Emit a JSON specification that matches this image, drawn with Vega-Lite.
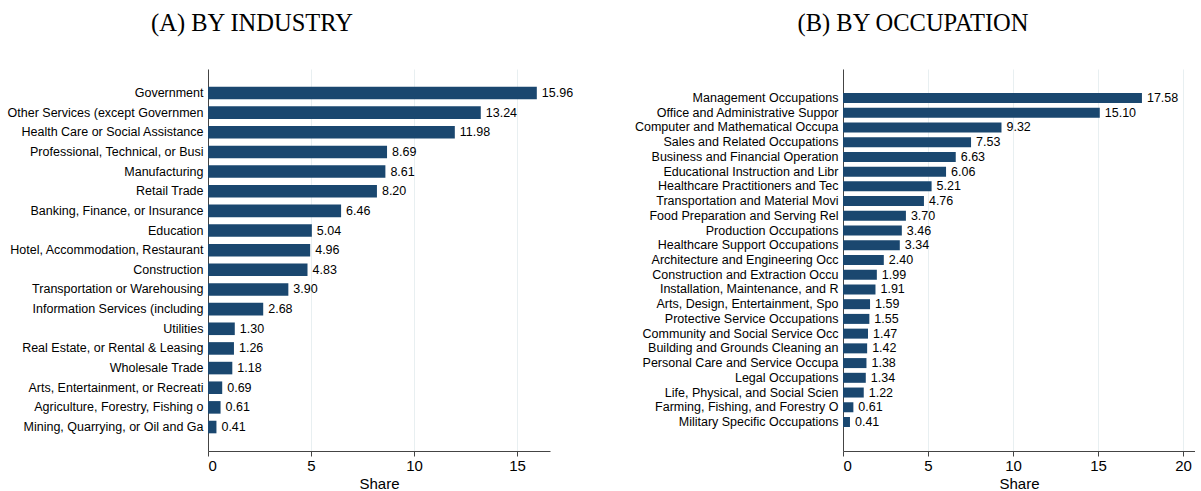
{
  "$schema": "https://vega.github.io/schema/vega-lite/v6.json",
  "padding": {"left": 7, "top": 11, "right": 0, "bottom": 0},
  "background": "white",
  "datasets": {
    "industry": [
      {"label": "Government", "share": 15.96},
      {"label": "Other Services (except Governmen", "share": 13.24},
      {"label": "Health Care or Social Assistance", "share": 11.98},
      {"label": "Professional, Technical, or Busi", "share": 8.69},
      {"label": "Manufacturing", "share": 8.61},
      {"label": "Retail Trade", "share": 8.20},
      {"label": "Banking, Finance, or Insurance", "share": 6.46},
      {"label": "Education", "share": 5.04},
      {"label": "Hotel, Accommodation, Restaurant", "share": 4.96},
      {"label": "Construction", "share": 4.83},
      {"label": "Transportation or Warehousing", "share": 3.90},
      {"label": "Information Services (including", "share": 2.68},
      {"label": "Utilities", "share": 1.30},
      {"label": "Real Estate, or Rental & Leasing", "share": 1.26},
      {"label": "Wholesale Trade", "share": 1.18},
      {"label": "Arts, Entertainment, or Recreati", "share": 0.69},
      {"label": "Agriculture, Forestry, Fishing o", "share": 0.61},
      {"label": "Mining, Quarrying, or Oil and Ga", "share": 0.41}
    ],
    "occupation": [
      {"label": "Management Occupations", "share": 17.58},
      {"label": "Office and Administrative Suppor", "share": 15.10},
      {"label": "Computer and Mathematical Occupa", "share": 9.32},
      {"label": "Sales and Related Occupations", "share": 7.53},
      {"label": "Business and Financial Operation", "share": 6.63},
      {"label": "Educational Instruction and Libr", "share": 6.06},
      {"label": "Healthcare Practitioners and Tec", "share": 5.21},
      {"label": "Transportation and Material Movi", "share": 4.76},
      {"label": "Food Preparation and Serving Rel", "share": 3.70},
      {"label": "Production Occupations", "share": 3.46},
      {"label": "Healthcare Support Occupations", "share": 3.34},
      {"label": "Architecture and Engineering Occ", "share": 2.40},
      {"label": "Construction and Extraction Occu", "share": 1.99},
      {"label": "Installation, Maintenance, and R", "share": 1.91},
      {"label": "Arts, Design, Entertainment, Spo", "share": 1.59},
      {"label": "Protective Service Occupations", "share": 1.55},
      {"label": "Community and Social Service Occ", "share": 1.47},
      {"label": "Building and Grounds Cleaning an", "share": 1.42},
      {"label": "Personal Care and Service Occupa", "share": 1.38},
      {"label": "Legal Occupations", "share": 1.34},
      {"label": "Life, Physical, and Social Scien", "share": 1.22},
      {"label": "Farming, Fishing, and Forestry O", "share": 0.61},
      {"label": "Military Specific Occupations", "share": 0.41}
    ]
  },
  "spacing": 60,
  "hconcat": [
    {
      "title": {"text": "(A) BY INDUSTRY", "frame": "group", "anchor": "middle", "dx": -127, "offset": 32.5},
      "width": 342,
      "height": 382,
      "data": {"name": "industry"},
      "encoding": {
        "y": {
          "field": "label", "type": "nominal", "sort": "-x", "title": null,
          "scale": {"paddingInner": 0.36, "paddingOuter": 0.9},
          "axis": {"ticks": false, "grid": false, "labelPadding": 5, "labelLimit": 300}
        },
        "x": {
          "field": "share", "type": "quantitative", "title": "Share",
          "scale": {"domain": [0, 16.6], "nice": false, "zero": true},
          "axis": {"values": [0, 5, 10, 15]}
        }
      },
      "layer": [
        {"mark": {"type": "bar", "color": "#1a476f"}},
        {
          "mark": {"type": "text", "align": "left", "dx": 5, "fontSize": 12.5, "font": "Liberation Sans", "color": "black"},
          "encoding": {"text": {"field": "share", "type": "quantitative", "format": ".2f"}}
        }
      ]
    },
    {
      "title": {"text": "(B) BY OCCUPATION", "frame": "group", "anchor": "middle", "dx": -106, "offset": 32.5},
      "width": 352,
      "height": 382,
      "data": {"name": "occupation"},
      "encoding": {
        "y": {
          "field": "label", "type": "nominal", "title": null,
          "scale": {
            "domain": [
              " ",
              "Management Occupations",
              "Office and Administrative Suppor",
              "Computer and Mathematical Occupa",
              "Sales and Related Occupations",
              "Business and Financial Operation",
              "Educational Instruction and Libr",
              "Healthcare Practitioners and Tec",
              "Transportation and Material Movi",
              "Food Preparation and Serving Rel",
              "Production Occupations",
              "Healthcare Support Occupations",
              "Architecture and Engineering Occ",
              "Construction and Extraction Occu",
              "Installation, Maintenance, and R",
              "Arts, Design, Entertainment, Spo",
              "Protective Service Occupations",
              "Community and Social Service Occ",
              "Building and Grounds Cleaning an",
              "Personal Care and Service Occupa",
              "Legal Occupations",
              "Life, Physical, and Social Scien",
              "Farming, Fishing, and Forestry O",
              "Military Specific Occupations",
              "  "
            ],
            "paddingInner": 0, "paddingOuter": 0.47
          },
          "axis": {"ticks": false, "grid": false, "labelPadding": 5, "labelLimit": 300}
        },
        "x": {
          "field": "share", "type": "quantitative", "title": "Share",
          "scale": {"domain": [0, 20.7], "nice": false, "zero": true},
          "axis": {"values": [0, 5, 10, 15, 20]}
        }
      },
      "layer": [
        {"mark": {"type": "bar", "color": "#1a476f", "height": 10}},
        {
          "mark": {"type": "text", "align": "left", "dx": 5, "fontSize": 12.5, "font": "Liberation Sans", "color": "black"},
          "encoding": {"text": {"field": "share", "type": "quantitative", "format": ".2f"}}
        }
      ]
    }
  ],
  "config": {
    "view": {"stroke": null},
    "title": {"font": "Liberation Serif", "fontSize": 24.5, "fontWeight": "normal", "color": "black"},
    "axis": {
      "labelFont": "Liberation Sans",
      "labelColor": "black",
      "titleFont": "Liberation Sans",
      "titleColor": "black",
      "titleFontWeight": "normal",
      "domainColor": "#444444",
      "tickColor": "#444444",
      "gridColor": "#e8eff1",
      "labelFontSize": 12.5
    },
    "axisX": {"labelFontSize": 15, "titleFontSize": 15, "tickSize": 5, "labelPadding": 2, "titlePadding": 3, "grid": true}
  }
}
